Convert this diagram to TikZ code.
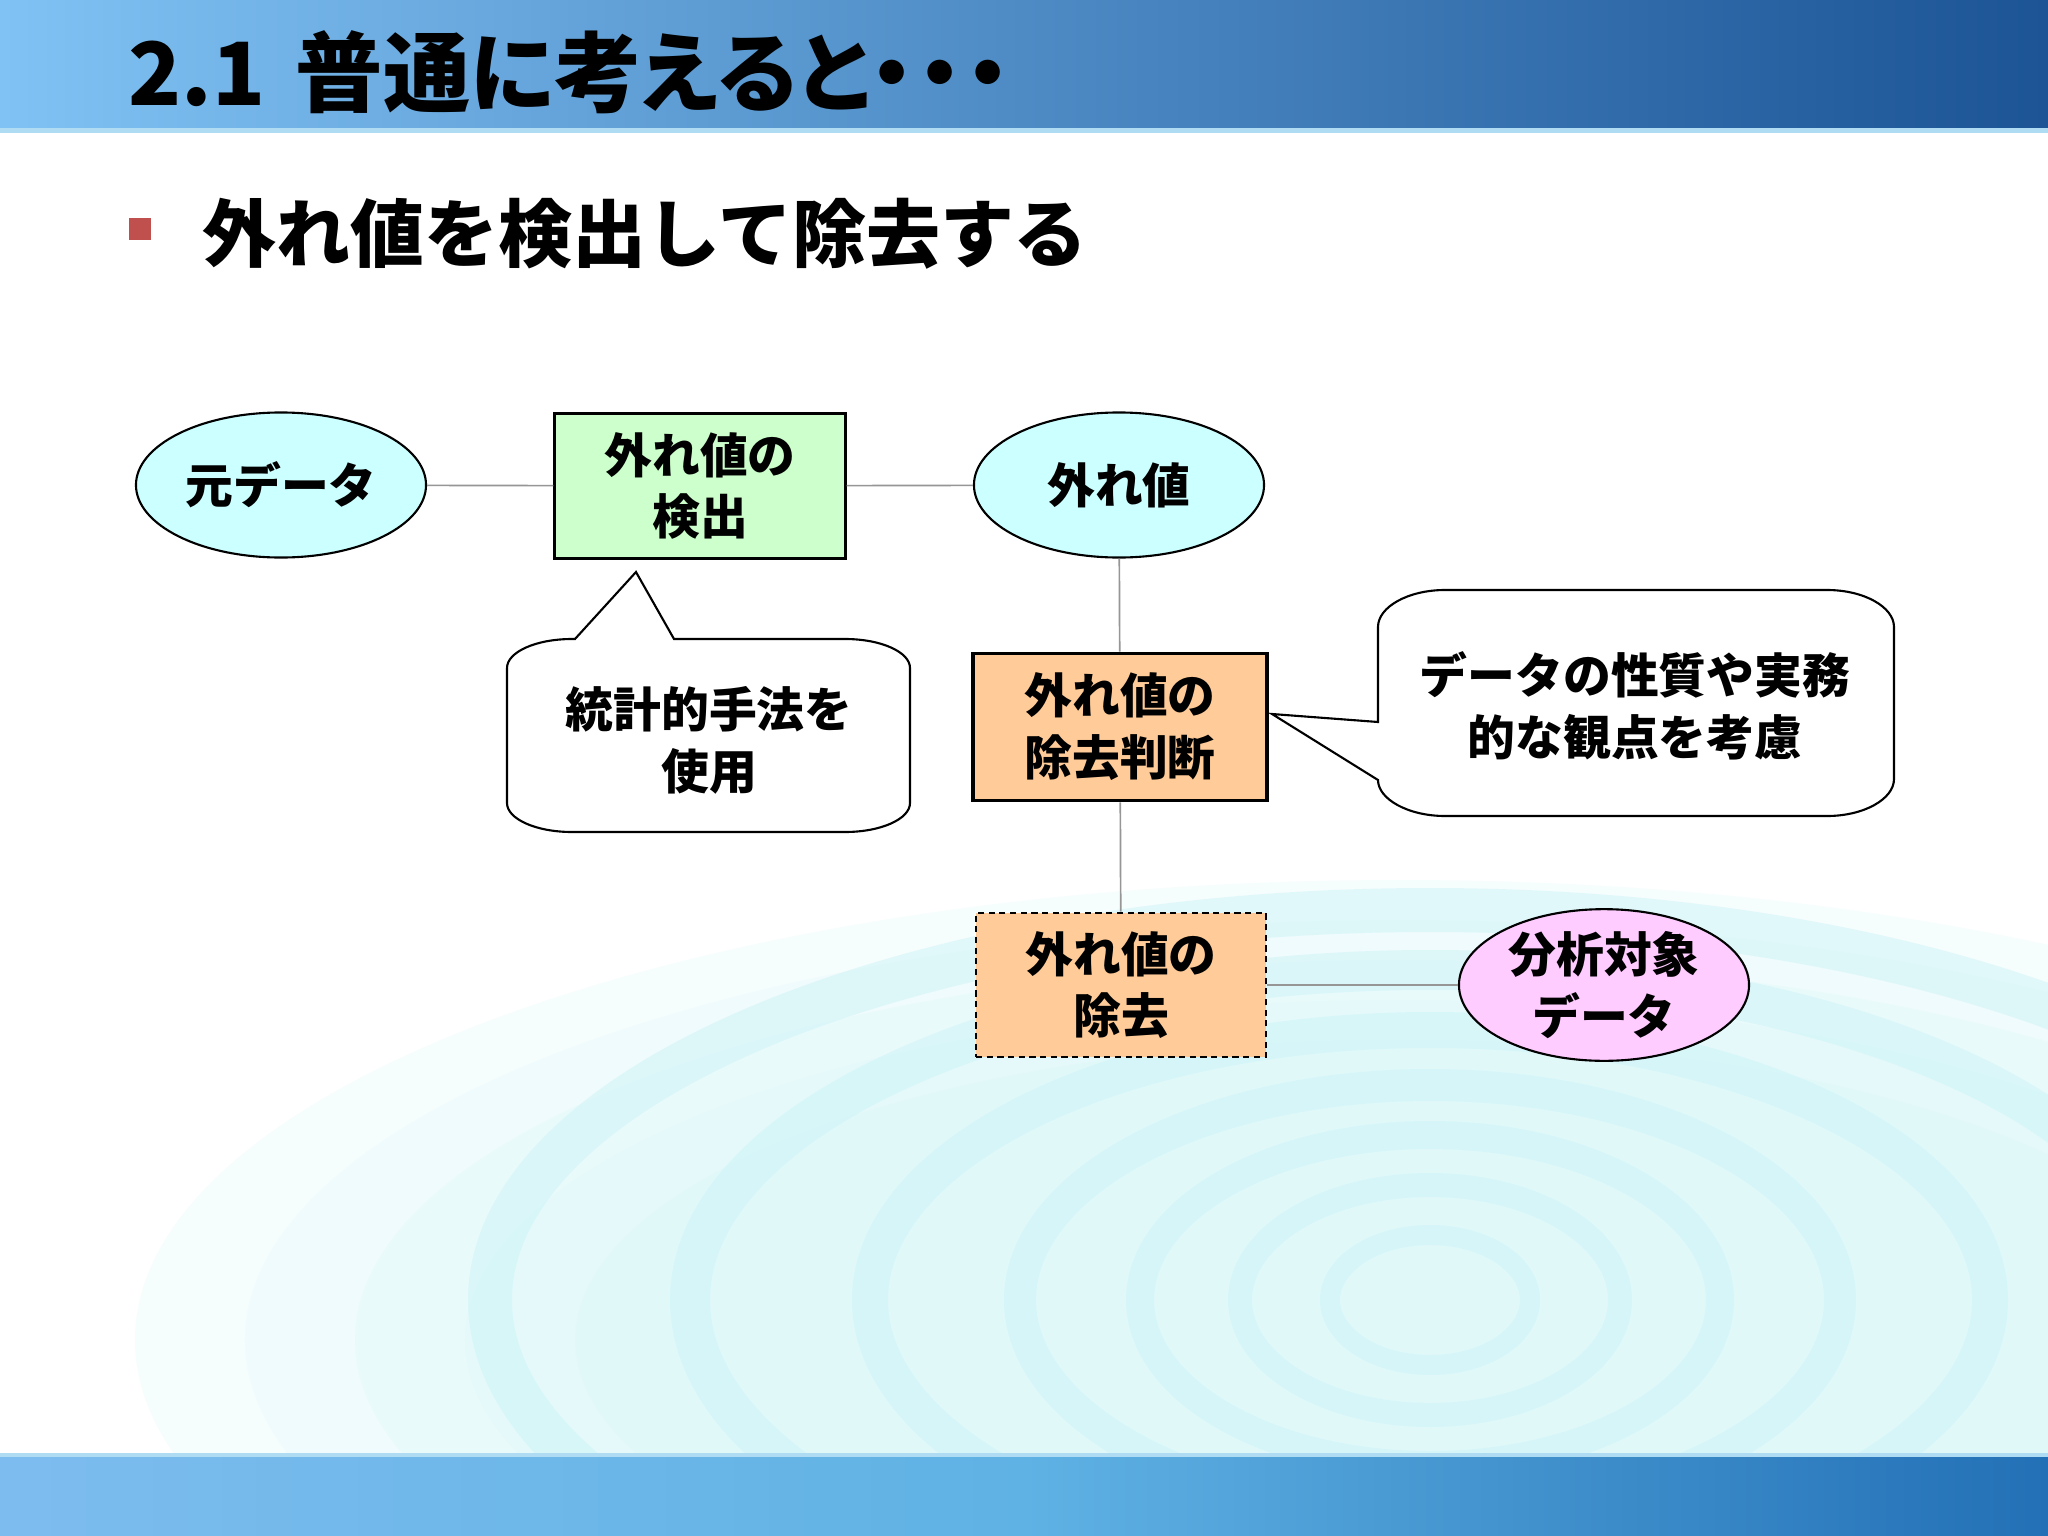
\documentclass[tikz,border=0pt]{standalone}
\usepackage{fontspec}
\usetikzlibrary{shapes.geometric}
\IfFontExistsTF{Noto Sans CJK JP Black}{%
  \newfontfamily\jp{Noto Sans CJK JP Black}%
  \newfontfamily\jptitle{Noto Sans CJK JP Black}[RawFeature=+palt]}{%
  \newfontfamily\jp{Noto Sans CJK JP Bold}[FakeBold=0.8]%
  \newfontfamily\jptitle{Noto Sans CJK JP Bold}[RawFeature=+palt,FakeBold=0.8]}
\definecolor{barL}{RGB}{128,194,244}
\definecolor{barR}{RGB}{28,84,150}
\definecolor{botL}{RGB}{125,188,238}
\definecolor{botM}{RGB}{95,178,228}
\definecolor{botR}{RGB}{35,112,182}
\definecolor{stripc}{RGB}{175,220,242}
\definecolor{bulletred}{RGB}{192,80,77}
\definecolor{cyanfill}{RGB}{204,255,255}
\definecolor{greenfill}{RGB}{204,255,204}
\definecolor{orangefill}{RGB}{255,204,153}
\definecolor{pinkfill}{RGB}{255,204,255}
\definecolor{conngray}{RGB}{150,150,150}
\definecolor{ripA}{RGB}{215,247,249}
\definecolor{ripB}{RGB}{200,243,247}
\newcommand\nodefont{\jp\fontsize{17}{22}\selectfont}
\tikzset{
  oval/.style={ellipse, draw=black, line width=0.75pt, minimum width=3.625cm,
    minimum height=1.8125cm, inner sep=0pt, align=center, font=\nodefont},
  boxnode/.style={rectangle, draw=black, line width=0.75pt, minimum width=3.6375cm,
    minimum height=1.8125cm, inner sep=0pt, align=center, font=\nodefont},
  conn/.style={draw=conngray, line width=0.6pt},
  callout/.style={fill=white, draw=black, line width=0.75pt},
  ctext/.style={inner sep=0pt, align=center, font=\nodefont}
}
\begin{document}
\begin{tikzpicture}[x=0.0125cm, y=-0.0125cm]
\useasboundingbox (0,0) rectangle (2048,1536);
\fill[white] (0,0) rectangle (2048,1536);
% ripple background
\begin{scope}
  \clip (0,133) rectangle (2048,1455);
  \foreach \s in {1.15,1.05,0.95,0.85,0.75}{
    \fill[ripA, opacity=0.22] (1400,1340) ellipse [x radius=1100*\s, y radius=400*\s];
  }
  \foreach \a/\b/\w in {100/65/20, 190/115/24, 290/165/28, 410/215/32, 560/270/36, 740/330/40, 940/390/44}{
    \draw[ripB, opacity=0.45, line width=\w*0.0125cm] (1430,1300) ellipse [x radius=\a, y radius=\b];
  }
\end{scope}
% top bar
\shade[left color=barL, right color=barR] (0,0) rectangle (2048,130);
\fill[stripc] (0,128) rectangle (2048,133);
% bottom bar
\shade[left color=botL, right color=botR, middle color=botM] (0,1455) rectangle (2048,1536);
\fill[stripc] (0,1453) rectangle (2048,1457);
% title
\node[anchor=west, inner sep=0pt, font=\jptitle\fontsize{31}{36}\selectfont] (title) at (128,72)
  {2.1\hspace{0.35em}普通に考えると・\kern0.05em・\kern0.05em・};
% bullet
\node[fill=bulletred, inner sep=0pt, minimum size=0.2625cm] (bullet) at (140,229) {};
\node[anchor=west, inner sep=0pt, font=\jp\fontsize{26.3}{30}\selectfont] (sub) at (202,234)
  {外れ値を検出して除去する};
% nodes
\node[oval, fill=cyanfill] (raw) at (281,485) {元データ};
\node[boxnode, fill=greenfill] (det) at (700,486) {外れ値の\\検出};
\node[oval, fill=cyanfill] (out) at (1119,485) {外れ値};
\node[boxnode, fill=orangefill, line width=1.4pt, minimum width=3.6625cm, minimum height=1.8375cm] (judge) at (1120,727) {外れ値の\\除去判断};
\node[boxnode, fill=orangefill, line width=0.9pt, dash pattern=on 2.2pt off 1.6pt, minimum width=3.625cm, minimum height=1.8cm] (rem) at (1121,985) {外れ値の\\除去};
\node[oval, fill=pinkfill] (ana) at (1604,985) {分析対象\\データ};
% connectors
\draw[conn] (raw) -- (det);
\draw[conn] (det) -- (out);
\draw[conn] (out) -- (judge);
\draw[conn] (judge) -- (rem);
\draw[conn] (rem) -- (ana);
% callouts
\coordinate (tip1) at (636,572);
\coordinate (tip2) at (1272,714);
\draw[callout] (575,639) -- (tip1) -- (674,639) -- (845,639)
  .. controls (881,639) and (910,652) .. (910,668) -- (910,803)
  .. controls (910,819) and (881,832) .. (845,832) -- (572,832)
  .. controls (536,832) and (507,819) .. (507,803) -- (507,668)
  .. controls (507,652) and (536,639) .. (572,639) -- cycle;
\draw[callout] (1445,590) -- (1827,590)
  .. controls (1864,590) and (1894,607) .. (1894,627) -- (1894,779)
  .. controls (1894,799) and (1864,816) .. (1827,816) -- (1445,816)
  .. controls (1408,816) and (1378,799) .. (1378,780) -- (tip2) -- (1378,722) -- (1378,627)
  .. controls (1378,607) and (1408,590) .. (1445,590) -- cycle;
\node[ctext] (c1) at (709,740) {統計的手法を\\使用};
\node[ctext] (c2) at (1635,706) {データの性質や実務\\的な観点を考慮};
\end{tikzpicture}
\end{document}
